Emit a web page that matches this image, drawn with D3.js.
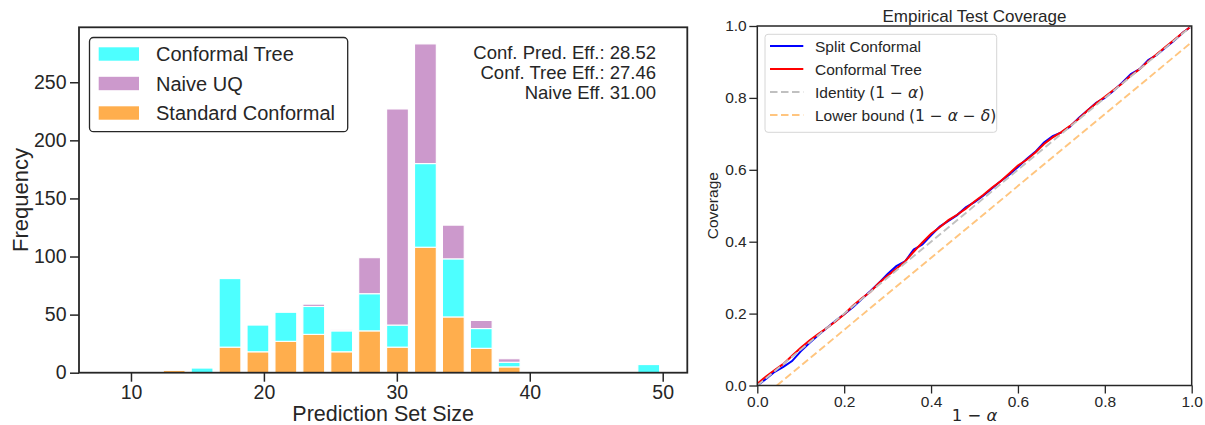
<!DOCTYPE html>
<meta charset="utf-8">
<script src="https://d3js.org/d3.v7.min.js"></script>
<style>
  body { margin: 0; background: #fff; }
  text { font-family: "Liberation Sans", Arial, sans-serif; fill: #262626; }
  .math { font-family: "DejaVu Sans", sans-serif; }
</style>
<div id="chart"></div>
<script>
// ---- histogram data (left) ----
var binCenters = [9.05, 11.15, 13.25, 15.35, 17.45, 19.55, 21.65, 23.75, 25.85, 27.95,
                  30.05, 32.15, 34.25, 36.35, 38.45, 40.55, 42.65, 44.75, 46.85, 48.95];
var binWidth = 2.1;
var standardConformal = [0, 0, 2, 0, 22, 18, 27, 33, 18, 36, 22, 108, 48, 21, 5, 0, 0, 0, 0, 0];
var conformalTree     = [0, 0, 0, 4, 59, 23, 25, 24, 18, 32, 19, 72, 50, 17, 4, 0, 0, 0, 0, 7];
var naiveUQ           = [0, 0, 0, 0, 0, 0, 0, 2, 1, 31, 186, 103, 29, 7, 3, 0, 0, 0, 0, 0];
var histTicksX = [10, 20, 30, 40, 50];
var histTicksY = [0, 50, 100, 150, 200, 250];
var effLines = ["Conf. Pred. Eff.: 28.52", "Conf. Tree Eff.: 27.46", "Naive Eff. 31.00"];

// ---- coverage data (right) ----
var levels = [0, 0.02, 0.04, 0.06, 0.08, 0.10, 0.12, 0.14, 0.16, 0.18, 0.20, 0.22, 0.24, 0.26, 0.28,
              0.30, 0.32, 0.34, 0.36, 0.38, 0.40, 0.42, 0.44, 0.46, 0.48, 0.50, 0.52, 0.54, 0.56, 0.58,
              0.60, 0.62, 0.64, 0.66, 0.68, 0.70, 0.72, 0.74, 0.76, 0.78, 0.80, 0.82, 0.84, 0.86, 0.88,
              0.90, 0.92, 0.94, 0.96, 0.98, 1.0];
var splitCov = [0.0, 0.018, 0.038, 0.052, 0.068, 0.095, 0.118, 0.14, 0.16, 0.18, 0.198, 0.218, 0.24, 0.262, 0.285,
                0.31, 0.332, 0.345, 0.378, 0.392, 0.418, 0.442, 0.458, 0.474, 0.496, 0.51, 0.528, 0.548, 0.568, 0.586,
                0.608, 0.63, 0.65, 0.676, 0.694, 0.704, 0.72, 0.744, 0.765, 0.786, 0.8, 0.82, 0.842, 0.866, 0.88,
                0.905, 0.92, 0.94, 0.96, 0.982, 1.0];
var treeCov = [0.005, 0.025, 0.043, 0.06, 0.083, 0.105, 0.125, 0.143, 0.16, 0.178, 0.198, 0.222, 0.242, 0.26, 0.285,
               0.305, 0.325, 0.345, 0.372, 0.398, 0.422, 0.44, 0.46, 0.475, 0.492, 0.512, 0.53, 0.55, 0.568, 0.59,
               0.612, 0.628, 0.648, 0.672, 0.69, 0.705, 0.722, 0.742, 0.765, 0.785, 0.803, 0.822, 0.84, 0.862, 0.88,
               0.902, 0.922, 0.942, 0.962, 0.982, 1.0];
var identityLine = [[0, 0], [1, 1]];
var lowerBoundLine = [[0.045, 0], [1, 0.955]];
var covTicks = [0, 0.2, 0.4, 0.6, 0.8, 1.0];

var svg = d3.select("#chart").append("svg")
  .attr("width", 1205).attr("height", 425);

var dark = "#262626";

function styleAxis(g, fs, sw) {
  g.select(".domain").remove();
  g.selectAll(".tick line").attr("stroke", dark).attr("stroke-width", sw);
  g.selectAll(".tick text").attr("fill", dark).style("font-size", fs + "px");
}

// ================= LEFT: histogram =================
var x1 = d3.scaleLinear().domain([6.09, 51.85]).range([79, 687.3]);
var y1 = d3.scaleLinear().domain([0, 297.3]).range([372.7, 27.3]);

var table = binCenters.map(function(c, i) {
  return { c: c, std: standardConformal[i], tree: conformalTree[i], naive: naiveUQ[i] };
});
var keys = ["std", "tree", "naive"];
var colors = { std: "#ffae4d", tree: "#4dffff", naive: "#cc99cc" };
var stacked = d3.stack().keys(keys)(table);

var left = svg.append("g");
stacked.forEach(function(layer) {
  left.append("g").selectAll("rect")
    .data(layer.filter(function(d) { return d[1] - d[0] > 0; }))
    .join("rect")
      .attr("x", function(d) { return x1(d.data.c - binWidth * 0.39); })
      .attr("width", function(d) { return x1(d.data.c + binWidth * 0.39) - x1(d.data.c - binWidth * 0.39); })
      .attr("y", function(d) { return y1(d[1]); })
      .attr("height", function(d) { return y1(d[0]) - y1(d[1]); })
      .attr("fill", colors[layer.key])
      .attr("stroke", "#fff")
      .attr("stroke-width", 1.1);
});

left.append("g")
  .attr("transform", "translate(0,372.7)")
  .call(d3.axisBottom(x1).tickValues(histTicksX).tickSize(9).tickPadding(3.5))
  .call(styleAxis, 19.5, 1.5);
left.append("g")
  .attr("transform", "translate(79,0)")
  .call(d3.axisLeft(y1).tickValues(histTicksY).tickSize(9).tickPadding(3.5))
  .call(styleAxis, 19.5, 1.5);

left.append("rect")
  .attr("x", 79).attr("y", 27.3).attr("width", 687.3 - 79).attr("height", 372.7 - 27.3)
  .attr("fill", "none").attr("stroke", dark).attr("stroke-width", 1.8);

left.append("text")
  .attr("x", (79 + 687.3) / 2).attr("y", 420.5)
  .attr("text-anchor", "middle").style("font-size", "21.5px")
  .text("Prediction Set Size");
left.append("text")
  .attr("transform", "translate(28,200) rotate(-90)")
  .attr("text-anchor", "middle").style("font-size", "22px")
  .text("Frequency");

// efficiency annotation
left.selectAll(".eff").data(effLines).join("text")
  .attr("class", "eff")
  .attr("x", 656).attr("y", function(d, i) { return 58.5 + i * 20; })
  .attr("text-anchor", "end").style("font-size", "18.5px")
  .text(function(d) { return d; });

// legend
var leg1 = left.append("g");
leg1.append("rect")
  .attr("x", 89.5).attr("y", 37.5).attr("width", 347.7 - 89.5).attr("height", 131.7 - 37.5)
  .attr("rx", 4).attr("fill", "#fff").attr("stroke", dark).attr("stroke-width", 1.3);
var leg1Items = [["Conformal Tree", "tree"], ["Naive UQ", "naive"], ["Standard Conformal", "std"]];
leg1Items.forEach(function(it, i) {
  var cy = 54 + i * 29.5;
  leg1.append("rect").attr("x", 98.7).attr("y", cy - 6.7).attr("width", 40.3).attr("height", 13.4)
    .attr("fill", colors[it[1]]);
  leg1.append("text").attr("x", 156).attr("y", cy + 7.4).style("font-size", "20px").text(it[0]);
});

// ================= RIGHT: coverage =================
var x2 = d3.scaleLinear().domain([0, 1]).range([757.3, 1191.7]);
var y2 = d3.scaleLinear().domain([0, 1]).range([385.5, 26]);
var right = svg.append("g");

var line = d3.line().x(function(d) { return x2(d[0]); }).y(function(d) { return y2(d[1]); });
var splitPts = levels.map(function(l, i) { return [l, splitCov[i]]; });
var treePts = levels.map(function(l, i) { return [l, treeCov[i]]; });

var series = [
  { name: "Split Conformal", pts: splitPts, color: "#0000ff", dash: null, w: 2 },
  { name: "Conformal Tree", pts: treePts, color: "#ff0000", dash: null, w: 2 },
  { name: "Identity", pts: identityLine, color: "#c0c0c0", dash: "7.5,3.5", w: 1.9 },
  { name: "Lower bound", pts: lowerBoundLine, color: "#ffc57f", dash: "7.5,3.5", w: 1.9 }
];
right.append("clipPath").attr("id", "clipR").append("rect")
  .attr("x", 757.3).attr("y", 26).attr("width", 1191.7 - 757.3).attr("height", 385.5 - 26);
series.forEach(function(s) {
  right.append("path").datum(s.pts)
    .attr("d", line).attr("fill", "none")
    .attr("stroke", s.color).attr("stroke-width", s.w)
    .attr("stroke-dasharray", s.dash)
    .attr("clip-path", "url(#clipR)");
});

right.append("g")
  .attr("transform", "translate(0,385.5)")
  .call(d3.axisBottom(x2).tickValues(covTicks).tickFormat(d3.format(".1f")).tickSize(8).tickPadding(2.5))
  .call(styleAxis, 15.5, 1.3);
right.append("g")
  .attr("transform", "translate(757.3,0)")
  .call(d3.axisLeft(y2).tickValues(covTicks).tickFormat(d3.format(".1f")).tickSize(8).tickPadding(2.6))
  .call(styleAxis, 15.5, 1.3);

right.append("rect")
  .attr("x", 757.3).attr("y", 26).attr("width", 1191.7 - 757.3).attr("height", 385.5 - 26)
  .attr("fill", "none").attr("stroke", dark).attr("stroke-width", 1.5);

right.append("text")
  .attr("x", (757.3 + 1191.7) / 2).attr("y", 21.5)
  .attr("text-anchor", "middle").style("font-size", "17px")
  .text("Empirical Test Coverage");
right.append("text")
  .attr("transform", "translate(718,205.7) rotate(-90)")
  .attr("text-anchor", "middle").style("font-size", "15.5px")
  .text("Coverage");
var xl = right.append("text")
  .attr("class", "math")
  .attr("x", (757.3 + 1191.7) / 2).attr("y", 421)
  .attr("text-anchor", "middle").style("font-size", "16.5px");
xl.append("tspan").text("1 \u2212 ");
xl.append("tspan").style("font-style", "italic").text("\u03b1");

// legend
var leg2 = right.append("g");
leg2.append("rect")
  .attr("x", 765).attr("y", 34.3).attr("width", 996.7 - 765).attr("height", 132.3 - 34.3)
  .attr("rx", 3).attr("fill", "#fff").attr("fill-opacity", 0.8)
  .attr("stroke", "#d6d6d6").attr("stroke-width", 1);
series.forEach(function(s, i) {
  var cy = 46 + i * 23;
  leg2.append("line").attr("x1", 770).attr("x2", 803.3).attr("y1", cy).attr("y2", cy)
    .attr("stroke", s.color).attr("stroke-width", s.w).attr("stroke-dasharray", s.dash);
  var t = leg2.append("text").attr("x", 815).attr("y", cy + 5.5).style("font-size", "15.5px");
  if (i < 2) {
    t.text(s.name);
  } else {
    t.append("tspan").text(s.name + " ");
    var m = t.append("tspan").attr("class", "math");
    m.append("tspan").text("(1 \u2212 ");
    m.append("tspan").style("font-style", "italic").text("\u03b1");
    if (i === 3) {
      m.append("tspan").text(" \u2212 ");
      m.append("tspan").style("font-style", "italic").text("\u03b4");
    }
    m.append("tspan").text(")");
  }
});
</script>
